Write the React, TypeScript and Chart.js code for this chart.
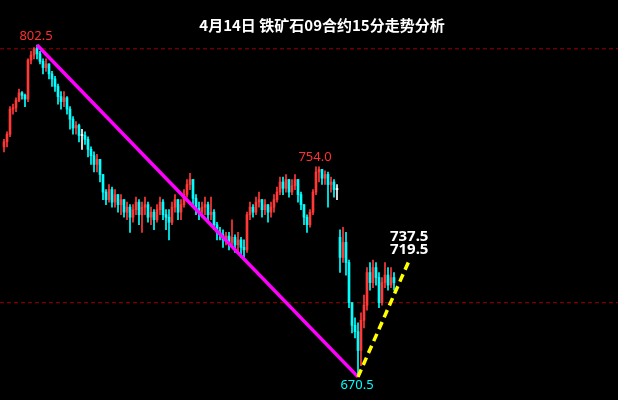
import React, { useEffect, useRef } from "react";
import { Chart, registerables } from "chart.js";

Chart.register(...registerables);

const TITLE = "4月14日 铁矿石09合约15分走势分析";

// 15-minute candles, left to right
const opens = [
  762, 764, 767, 777, 777.5, 780.5, 783.5, 782.5, 781, 796.5,
  798.5, 801, 799, 796, 793.5, 795, 791, 789, 786, 782,
  780, 781.5, 777, 773, 769.5, 770.5, 766.5, 766.5, 765, 761,
  758.5, 755, 757, 751, 744, 741, 745, 740, 743, 739,
  741, 736, 738, 734, 737, 740, 735, 738, 739, 734,
  736, 733, 737, 740, 735, 734, 732, 738, 741, 736,
  739, 743, 747, 749, 741.5, 737.5, 736, 738, 739, 735,
  736, 731, 728, 727, 725, 726.5, 724, 726, 723, 725,
  722, 721, 735, 738, 736, 740, 741, 737, 739, 736,
  738, 741, 744, 748, 745.5, 749, 744, 746.5, 749, 743,
  739, 734, 731, 736, 744, 752, 753, 749.5, 751, 747,
  748, 745, 726, 718, 724, 716, 700, 691, 688.5, 681,
  693, 699, 712, 708, 714, 710, 700, 708, 711, 707,
  710,
];
const closes = [
  764, 767, 777, 777.5, 780.5, 783.5, 782.5, 781, 796.5, 798.5,
  801, 799, 796, 793.5, 795, 791, 789, 786, 782, 780,
  781.5, 777, 773, 769.5, 770.5, 766.5, 766.5, 765, 761, 758.5,
  755, 757, 751, 744, 741, 745, 740, 743, 739, 741,
  736, 738, 734, 737, 740, 735, 738, 739, 734, 736,
  733, 737, 740, 735, 734, 732, 738, 741, 736, 739,
  743, 747, 749, 741.5, 737.5, 736, 738, 739, 735, 736,
  731, 728, 727, 725, 726.5, 724, 726, 723, 725, 722,
  721, 735, 738, 736, 740, 741, 737, 739, 736, 738,
  741, 744, 748, 745.5, 749, 744, 746.5, 749, 743, 739,
  734, 731, 736, 744, 752, 753, 749.5, 751, 747, 748,
  745, 745, 718, 724, 716, 700, 691, 688.5, 681, 693,
  699, 712, 708, 714, 710, 700, 708, 711, 707, 710,
  708,
];
const highs = [
  765, 768, 778, 779, 781.5, 785, 784, 783, 797, 800,
  801.5, 802.5, 800, 797, 797, 795, 792, 790, 787, 784,
  784, 782, 778, 774, 772, 771, 769, 768, 766, 762,
  760, 759, 757, 751, 745, 747, 746, 745, 743, 743,
  741, 740, 739, 739, 742, 741, 740, 742, 740, 738,
  737, 739, 742, 741, 737, 737, 740, 743, 741, 741,
  745, 749, 751.5, 749, 743, 740, 740, 742, 740, 742,
  737, 732, 730, 729, 728, 728, 733, 727, 728, 726,
  725, 736, 740, 739, 742, 744, 741, 741, 739, 740,
  743, 746, 750, 750, 751, 749, 749, 751, 749, 744,
  739, 735, 737, 745, 754, 754, 753, 752.5, 752, 750,
  749, 747, 729, 730, 728, 717, 700, 694, 692, 696,
  703, 714, 716, 717, 716, 712, 710, 716, 714, 714,
  712,
];
const lows = [
  760, 762, 766, 775, 776, 780, 781, 778, 780, 795,
  797, 797, 795, 791, 792, 789, 786, 784, 779, 777,
  778, 775, 769, 767, 767, 764, 761, 763, 758, 755,
  752, 752, 748, 741, 739, 740, 738, 738, 736, 735,
  734, 733, 728, 732, 735, 731, 728, 735, 732, 731,
  729, 732, 735, 733, 729, 725, 731, 736, 733, 733,
  738, 742, 745, 739, 735, 733, 734, 735, 732, 733,
  729, 725, 725, 722, 723, 721, 722, 720, 720, 718,
  717.5, 720, 733, 734, 735, 738, 734, 735, 732, 734,
  736, 740, 743, 743, 744, 742, 743, 745, 740, 737,
  731, 728, 730, 735, 743, 748, 747, 747, 738, 744,
  742, 741, 712, 716, 711, 698, 688, 686, 670.5, 675,
  690, 697, 705, 706, 707, 698, 699, 706, 705, 706,
  705,
];

// annotated extremes and reference levels
const peakIndex = 11;
const peakValue = 802.5;
const secondPeakIndex = 104;
const secondPeakValue = 754.0;
const lowIndex = 118;
const lowValue = 670.5;
const trendEnd = { x: 135.3, y: 717.5 };
const targetLabels = ["737.5", "719.5"];
const refLevels = [801, 700];

const X_MIN = -1.333;
const X_MAX = 204.667;
const Y_MIN = 661.3;
const Y_MAX = 820.4;

const RED = "#ff3838";
const CYAN = "#00ffff";
const WHITE = "#ffffff";

function candleColor(i: number) {
  if (closes[i] > opens[i]) return RED;
  if (closes[i] < opens[i]) return CYAN;
  return WHITE;
}

const labelPlugin = {
  id: "chartLabels",
  afterDatasetsDraw(chart: any) {
    const { ctx } = chart;
    const xs = chart.scales.x;
    const ys = chart.scales.y;
    ctx.save();
    ctx.textAlign = "center";
    ctx.textBaseline = "middle";
    // title
    ctx.fillStyle = WHITE;
    ctx.font = 'bold 15px "Noto Sans CJK SC", sans-serif';
    ctx.fillText(TITLE, 322, 25);
    // extremes
    ctx.font = '13px "Noto Sans", sans-serif';
    ctx.fillStyle = "#ff3030";
    ctx.fillText(peakValue.toFixed(1), xs.getPixelForValue(peakIndex) - 1, ys.getPixelForValue(peakValue) - 9);
    ctx.fillText(secondPeakValue.toFixed(1), xs.getPixelForValue(secondPeakIndex) - 1, ys.getPixelForValue(secondPeakValue) - 10);
    ctx.fillStyle = CYAN;
    ctx.fillText(lowValue.toFixed(1), xs.getPixelForValue(lowIndex) - 1, ys.getPixelForValue(lowValue) + 8);
    // targets
    ctx.fillStyle = WHITE;
    ctx.font = 'bold 15px "Noto Sans", sans-serif';
    ctx.textAlign = "left";
    const ex = xs.getPixelForValue(trendEnd.x);
    const ey = ys.getPixelForValue(trendEnd.y);
    ctx.fillText(targetLabels[0], ex - 20, ey - 22);
    ctx.fillText(targetLabels[1], ex - 20, ey - 9);
    ctx.restore();
  },
};

export default function App() {
  const ref = useRef<HTMLCanvasElement | null>(null);

  useEffect(() => {
    document.body.style.margin = "0";
    document.body.style.background = "#000";
    const canvas = ref.current;
    if (!canvas) return;
    const n = closes.length;
    const colors = Array.from({ length: n }, (_, i) => candleColor(i));
    const wickData = lows.map((l, i) => ({ x: i, y: [l, highs[i]] }));
    const bodyData = opens.map((o, i) => ({ x: i, y: [o, closes[i]] }));

    const refDatasets = refLevels.map((lv) => ({
      type: "line" as const,
      data: [
        { x: X_MIN, y: lv },
        { x: X_MAX, y: lv },
      ],
      borderColor: "#990000",
      borderWidth: 1,
      borderDash: [4, 3],
      pointRadius: 0,
      order: 5,
    }));

    const chart = new Chart(canvas, {
      type: "bar",
      data: {
        datasets: [
          ...refDatasets,
          {
            type: "bar",
            data: wickData as any,
            backgroundColor: colors,
            barThickness: 1,
            grouped: false,
            order: 3,
          },
          {
            type: "bar",
            data: bodyData as any,
            backgroundColor: colors,
            barThickness: 2,
            minBarLength: 1,
            grouped: false,
            order: 2,
          },
          {
            type: "line",
            data: [
              { x: peakIndex, y: peakValue },
              { x: lowIndex, y: lowValue },
            ],
            borderColor: "#ff00ff",
            borderWidth: 3.5,
            pointRadius: 0,
            order: 1,
          },
          {
            type: "line",
            data: [
              { x: lowIndex, y: lowValue },
              { x: trendEnd.x, y: trendEnd.y },
            ],
            borderColor: "#ffff00",
            borderWidth: 3.5,
            borderDash: [8, 5],
            pointRadius: 0,
            order: 0,
          },
        ] as any,
      },
      options: {
        animation: false,
        responsive: false,
        maintainAspectRatio: false,
        layout: { padding: 0 },
        plugins: {
          legend: { display: false },
          tooltip: { enabled: false },
          title: { display: false },
        },
        scales: {
          x: { type: "linear", min: X_MIN, max: X_MAX, display: false, offset: false },
          y: { min: Y_MIN, max: Y_MAX, display: false },
        },
      },
      plugins: [labelPlugin],
    });
    return () => chart.destroy();
  }, []);

  return (
    <div style={{ position: "fixed", left: 0, top: 0, width: 618, height: 400, background: "#000" }}>
      <canvas ref={ref} width={618} height={400} style={{ display: "block" }} />
    </div>
  );
}
